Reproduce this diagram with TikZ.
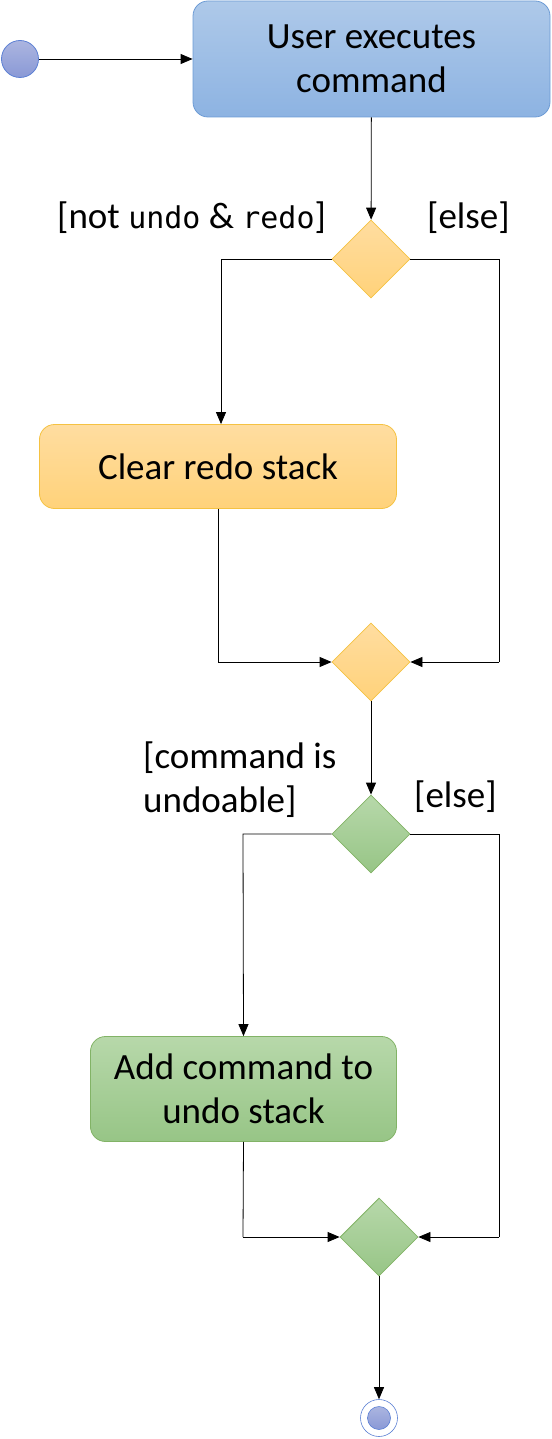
\documentclass[tikz,border=0pt]{standalone}
\usepackage{fontspec}
\setmainfont{Carlito}
\newfontfamily\codefont{DejaVu Sans Mono}[Scale=0.81]
\usetikzlibrary{shapes.geometric,arrows.meta}
\definecolor{blueTop}{HTML}{AEC9E9}
\definecolor{blueBot}{HTML}{8DB3E2}
\definecolor{blueLine}{HTML}{6C9BD5}
\definecolor{orTop}{HTML}{FFDDA0}
\definecolor{orBot}{HTML}{FFD27A}
\definecolor{orLine}{HTML}{F5C242}
\definecolor{grTop}{HTML}{B7D8AA}
\definecolor{grBot}{HTML}{97C586}
\definecolor{grLine}{HTML}{82B366}
\definecolor{dotTop}{HTML}{ABB5E0}
\definecolor{dotBot}{HTML}{8A99D6}
\definecolor{dotLine}{HTML}{5C80D4}
\tikzset{
  actbox/.style={rounded corners=15pt, inner sep=0pt, align=center,
    font=\fontsize{37}{44}\selectfont, line width=0.8pt},
  bluebox/.style={actbox, draw=blueLine, top color=blueTop, bottom color=blueBot},
  orbox/.style={actbox, draw=orLine, top color=orTop, bottom color=orBot},
  grbox/.style={actbox, draw=grLine, top color=grTop, bottom color=grBot},
  decide/.style={diamond, aspect=1, minimum width=78pt, minimum height=78pt, inner sep=0pt, line width=0.8pt},
  ordec/.style={decide, draw=orLine, top color=orTop, bottom color=orBot},
  grdec/.style={decide, draw=grLine, top color=grTop, bottom color=grBot},
  flow/.style={line width=0.8pt, -{Triangle[length=12pt,width=10pt]}},
  plain/.style={line width=0.8pt},
  guard/.style={font=\fontsize{37}{44}\selectfont, inner sep=0pt, align=left},
}
\begin{document}
\begin{tikzpicture}[x=1pt,y=-1pt]
\useasboundingbox (0,0) rectangle (551,1439);
% start
\node[circle, minimum size=37pt, inner sep=0pt, draw=dotLine, line width=0.8pt, top color=dotTop, bottom color=dotBot] (start) at (20,59) {};
\node[bluebox, minimum width=357pt, minimum height=116pt] (exec) at (371.5,59) {User executes\\command};
\node[ordec] (d1) at (371,259) {};
\node[orbox, minimum width=357pt, minimum height=84pt] (clear) at (218,466.5) {Clear redo stack};
\node[ordec] (m1) at (371,662) {};
\node[grdec] (d2) at (371,834) {};
\node[grbox, minimum width=306pt, minimum height=105pt] (add) at (243.5,1089) {Add command to\\undo stack};
\node[grdec] (m2) at (379,1237) {};
\node[circle, minimum size=37pt, inner sep=0pt, draw=dotLine, line width=0.6pt, fill=white] (end) at (379,1418) {};
\node[circle, minimum size=23pt, inner sep=0pt, draw=dotLine, line width=0.6pt, top color=dotTop, bottom color=dotBot] (endin) at (379,1418) {};
% guards
\node[guard, anchor=west] (g1) at (57,218) {[not {\codefont undo} \& {\codefont redo}]};
\node[guard, anchor=west] (g2) at (427,218) {[else]};
\node[guard, anchor=west] (g3) at (143,780) {[command is\\undoable]};
\node[guard, anchor=west] (g4) at (414,797) {[else]};
% coordinates
\coordinate (a1) at (221,259);
\coordinate (a2) at (499,259);
\coordinate (a3) at (218,662);
\coordinate (a4) at (499,662);
\coordinate (b1) at (243,834);
\coordinate (b2) at (499,834);
\coordinate (b3) at (243,1237);
\coordinate (b4) at (499,1237);
% connectors
\draw[flow] (start) -- (exec);
\draw[flow] (exec) -- (d1);
\draw[flow] (d1.west) -- (a1) -- (clear.north -| a1);
\draw[plain] (d1.east) -- (a2) -- (a4);
\draw[flow] (a4) -- (m1.east);
\draw[plain] (clear.south) -- (a3);
\draw[flow] (a3) -- (m1.west);
\draw[flow] (m1) -- (d2);
\draw[flow] (d2.west) -- (b1) -- (add.north);
\draw[plain] (d2.east) -- (b2) -- (b4);
\draw[flow] (b4) -- (m2.east);
\draw[plain] (add.south) -- (b3);
\draw[flow] (b3) -- (m2.west);
\draw[flow] (m2) -- (end);
\end{tikzpicture}
\end{document}
